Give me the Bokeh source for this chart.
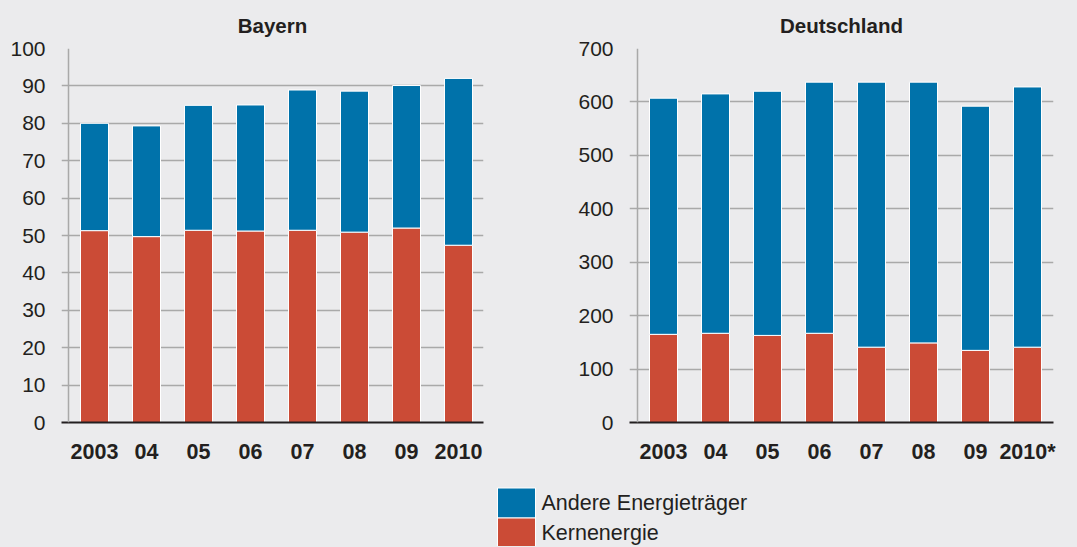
from bokeh.plotting import figure
from bokeh.layouts import column, row
from bokeh.models import Span, ColumnDataSource, FixedTicker, Range1d
from bokeh.core.properties import value
from bokeh.embed import file_html
from bokeh.resources import INLINE

# ---- data ----
years_by = ["2003", "04", "05", "06", "07", "08", "09", "2010"]
years_de = ["2003", "04", "05", "06", "07", "08", "09", "2010*"]
bayern_kern = [51.3, 49.7, 51.4, 51.2, 51.4, 50.9, 52.0, 47.4]
bayern_andere = [28.7, 29.6, 33.4, 33.7, 37.5, 37.7, 38.1, 44.6]
de_kern = [165, 167, 163, 167, 141, 149, 135, 141]
de_andere = [442, 448, 457, 470, 496, 488, 457, 487]
by_ticks = [0, 10, 20, 30, 40, 50, 60, 70, 80, 90, 100]
de_ticks = [0, 100, 200, 300, 400, 500, 600, 700]
series = ["Andere Energieträger", "Kernenergie"]
colors = ["#0072aa", "#cb4b36"]

BG = "#ebebed"
GRID = "#a9a9a9"
TXT = "#231f20"
FONT = "Liberation Sans"


def make_chart(title, labels, kern, andere, ticks, width, mbl, mbr, xs, xe, xstand):
    n = len(labels)
    src = ColumnDataSource(dict(x=list(range(n)), kern=kern, andere=andere))
    p = figure(width=width, height=478, x_range=Range1d(xs, xe),
               y_range=Range1d(ticks[0], ticks[-1]),
               output_backend="svg", toolbar_location=None,
               min_border_left=mbl, min_border_right=mbr,
               min_border_top=47, min_border_bottom=56, title=title)
    p.background_fill_color = BG
    p.border_fill_color = BG
    p.outline_line_color = None
    p.title.align = "center"
    p.title.text_font = FONT
    p.title.text_font_size = "20.5px"
    p.title.text_font_style = "bold"
    p.title.text_color = TXT
    p.title.standoff = 23

    p.xgrid.grid_line_color = None
    p.ygrid.ticker = FixedTicker(ticks=ticks)
    p.ygrid.grid_line_color = GRID
    p.ygrid.grid_line_width = 1.5

    p.yaxis.ticker = FixedTicker(ticks=ticks)
    p.yaxis.axis_line_color = None
    p.yaxis.major_tick_line_color = None
    p.yaxis.minor_tick_line_color = None
    p.yaxis.major_tick_out = 0
    p.yaxis.major_tick_in = 0
    p.yaxis.minor_tick_out = 0
    p.yaxis.major_label_standoff = 16
    p.yaxis.major_label_text_font = FONT
    p.yaxis.major_label_text_font_size = "21px"
    p.yaxis.major_label_text_color = TXT

    p.xaxis.ticker = FixedTicker(ticks=list(range(n)))
    p.xaxis.major_label_overrides = {i: lab for i, lab in enumerate(labels)}
    p.xaxis.axis_line_color = TXT
    p.xaxis.axis_line_width = 2
    p.xaxis.major_tick_line_color = None
    p.xaxis.minor_tick_line_color = None
    p.xaxis.major_tick_out = 0
    p.xaxis.major_tick_in = 0
    p.xaxis.minor_tick_out = 0
    p.xaxis.major_label_standoff = xstand
    p.xaxis.major_label_text_font = FONT
    p.xaxis.major_label_text_font_size = "21.5px"
    p.xaxis.major_label_text_font_style = "bold"
    p.xaxis.major_label_text_color = TXT

    p.add_layout(Span(location=-0.5, dimension="height", line_color=GRID, line_width=1.5))

    p.vbar_stack(["kern", "andere"], x="x", width=28 / 52, source=src,
                 fill_color=[colors[1], colors[0]], line_color="white", line_width=1)
    return p


p1 = make_chart("Bayern", years_by, bayern_kern, bayern_andere, by_ticks,
                538, 61, 55, (61 - 94) / 52, (483 - 94) / 52, 21)
p2 = make_chart("Deutschland", years_de, de_kern, de_andere, de_ticks,
                539, 91, 24, (629 - 663) / 52, (1053 - 663) / 52, 17)

# ---- legend ----
LW, LH = 1077, 68
pleg = figure(width=LW, height=LH, x_range=Range1d(0, LW), y_range=Range1d(0, LH),
              output_backend="svg", toolbar_location=None, min_border=0)
pleg.background_fill_color = BG
pleg.border_fill_color = BG
pleg.outline_line_color = None
pleg.axis.visible = False
pleg.grid.grid_line_color = None
leg_src = ColumnDataSource(dict(x=[516, 516], y=[43.5, 13.5], tx=[541, 541], label=series, color=colors))
pleg.rect(x="x", y="y", width=38, height=30, fill_color="color", line_color="white",
          line_width=1, source=leg_src)
pleg.text(x="tx", y="y", text="label", text_baseline="middle", text_align="left",
          text_font=value(FONT), text_font_size="21.5px", text_color=TXT, source=leg_src)

layout = column(row(p1, p2), pleg)

template = """{% block postamble %}<style>html, body { background-color: #ebebed; }</style>{% endblock %}"""
open("out.html", "w").write(file_html(layout, INLINE, template=template))
